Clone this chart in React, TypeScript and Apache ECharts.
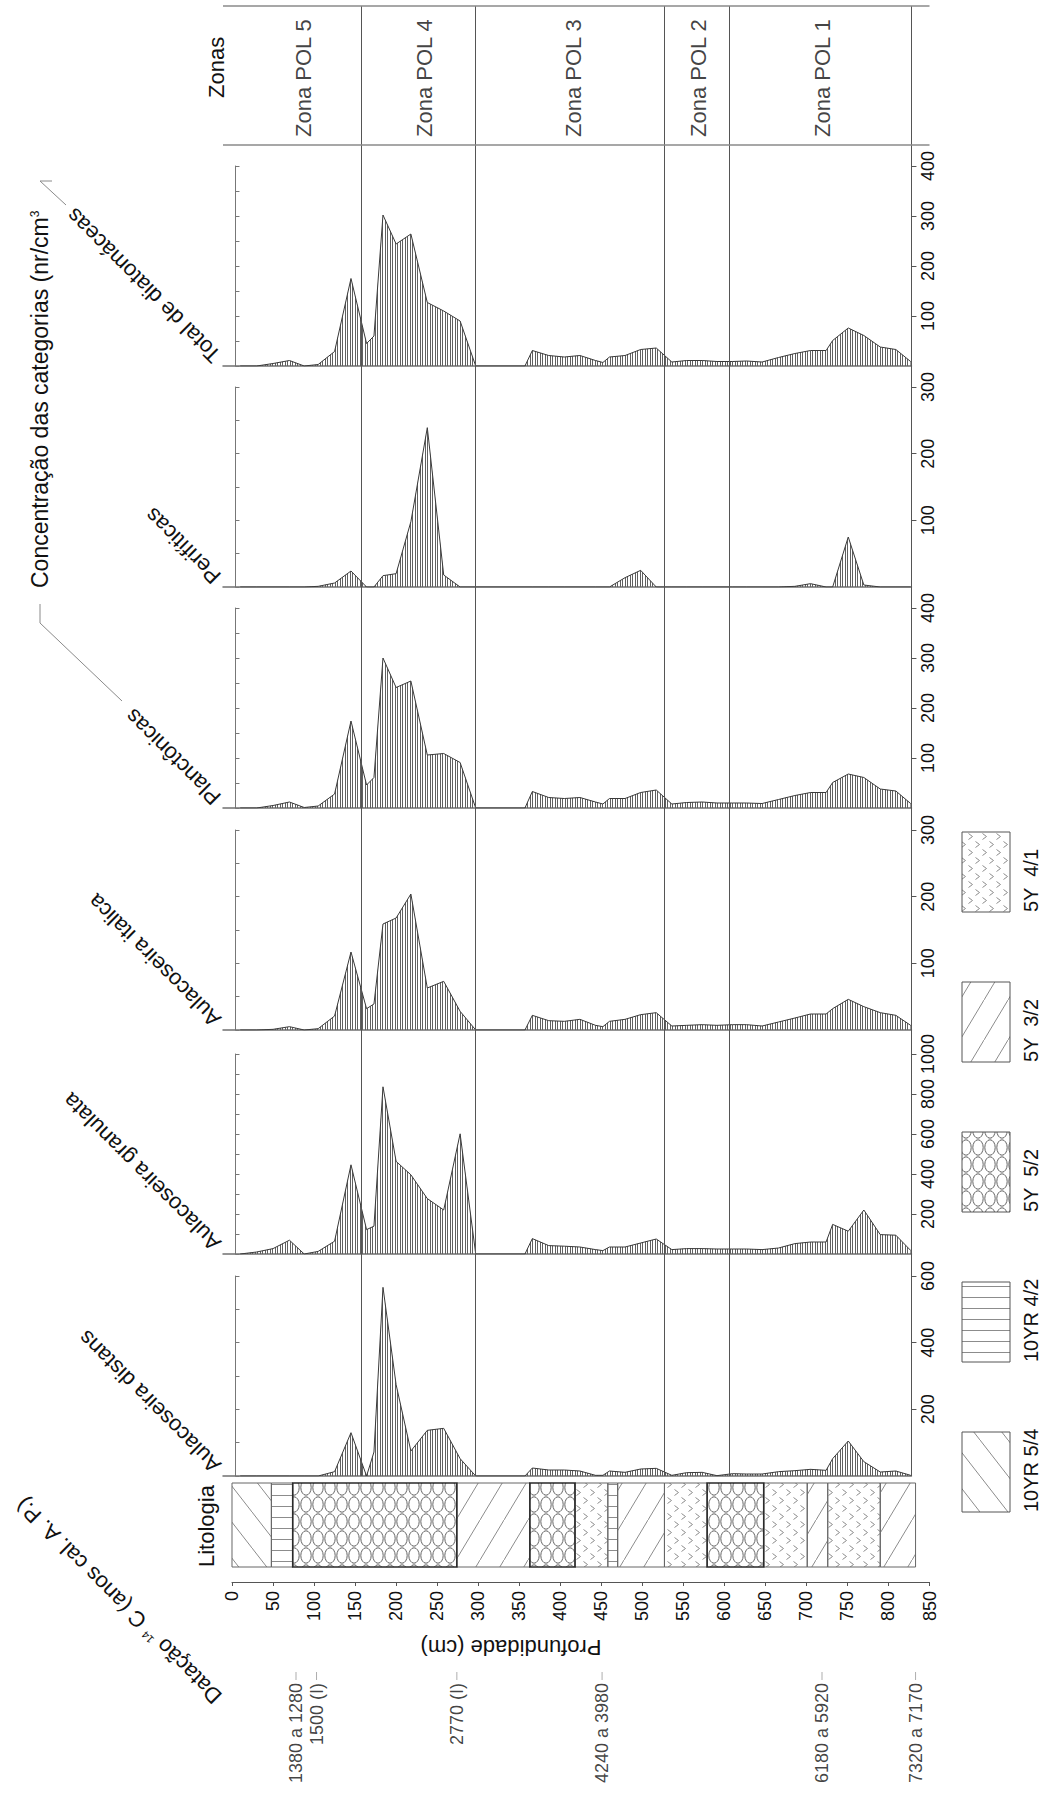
import { useEffect, useRef } from 'react';
import * as echarts from 'echarts';

// ---- sample depths (cm) shared by every diatom curve ----
const depthCm = [10, 30, 50, 70, 88, 105, 125, 145, 164, 173, 184, 200, 218, 238, 258, 278, 297, 357, 366, 386, 405, 424, 443, 452, 460, 479, 498, 517, 536, 554, 573, 591, 610, 627, 646, 666, 686, 705, 724, 732, 751, 770, 790, 809, 827];

// ---- concentrations (nr/cm3) ----
const totalDiatomaceas = [0, 0, 5, 11, 0, 3, 29, 175, 45, 60, 302, 244, 264, 127, 110, 90, 0, 0, 31, 21, 18, 21, 11, 7, 18, 21, 33, 36, 8, 11, 11, 9, 9, 10, 8, 17, 25, 31, 31, 51, 76, 61, 38, 33, 9];
const perifiticas = [0, 0, 0, 0, 0, 1, 6, 24, 0, 0, 17, 20, 98, 239, 18, 0, 0, 0, 0, 0, 0, 0, 0, 0, 0, 14, 25, 0, 0, 0, 0, 0, 0, 0, 0, 0, 1, 5, 0, 0, 75, 3, 0, 0, 0];
const planctonicas = [0, 0, 5, 12, 1, 4, 28, 174, 46, 61, 300, 241, 254, 106, 109, 91, 0, 0, 33, 21, 19, 21, 12, 8, 19, 19, 31, 36, 8, 11, 12, 10, 10, 10, 9, 17, 25, 31, 31, 51, 68, 61, 38, 34, 9];
const aulacoseiraItalica = [0, 0, 1, 5, 0, 2, 21, 117, 32, 39, 159, 168, 204, 63, 73, 28, 0, 0, 22, 14, 13, 16, 7, 5, 13, 16, 23, 26, 6, 7, 8, 7, 8, 8, 6, 12, 18, 24, 24, 32, 46, 35, 26, 22, 7];
const aulacoseiraGranulata = [0, 10, 27, 69, 0, 13, 64, 446, 122, 139, 836, 463, 396, 277, 220, 601, 0, 0, 77, 42, 39, 35, 22, 17, 35, 35, 55, 75, 22, 27, 27, 25, 25, 25, 22, 30, 52, 60, 60, 148, 114, 220, 97, 94, 18];
const aulacoseiraDistans = [0, 0, 0, 0, 0, 0, 13, 130, 0, 72, 566, 274, 75, 137, 143, 52, 0, 0, 24, 18, 18, 15, 2, 2, 15, 11, 21, 23, 2, 10, 11, 1, 7, 6, 6, 13, 16, 20, 17, 52, 105, 43, 12, 15, 2];

const panelNames = ['Total de diatomáceas', 'Perifíticas', 'Planctônicas', 'Aulacoseira italica', 'Aulacoseira granulata', 'Aulacoseira distans'];
const panelValues = [totalDiatomaceas, perifiticas, planctonicas, aulacoseiraItalica, aulacoseiraGranulata, aulacoseiraDistans];
const panelMax = [400, 300, 400, 300, 1000, 600];
const panelMinorStep = [50, 50, 50, 50, 100, 100];
const panelLabelStep = [100, 100, 100, 100, 200, 200];

// ---- pollen zones ----
const zoneNames = ['Zona POL 5', 'Zona POL 4', 'Zona POL 3', 'Zona POL 2', 'Zona POL 1'];
const zoneLabelDepth = [87, 234, 416, 569, 720];
const zoneBoundaries = [158, 297, 527, 606, 828];

// ---- lithology column ----
const lithoTop = [0, 48, 74, 274, 363, 418, 458, 470, 527, 579, 648, 701, 726, 790];
const lithoBase = [48, 74, 274, 363, 418, 458, 470, 527, 579, 648, 701, 726, 790, 833];
const lithoMunsell = ['10YR 5/4', '10YR 4/2', '5Y 5/2', '5Y 3/2', '5Y 5/2', '5Y 4/1', '10YR 4/2', '5Y 3/2', '5Y 4/1', '5Y 5/2', '5Y 4/1', '5Y 3/2', '5Y 4/1', '5Y 3/2'];

// ---- 14C dates ----
const dateDepth = [78, 103, 274, 451, 719, 833];
const dateLabels = ['1380 a 1280', '1500 (I)', '2770 (I)', '4240 a 3980', '6180 a 5920', '7320 a 7170'];

// ---- legend ----
const legendMunsell = ['5Y 4/1', '5Y 3/2', '5Y 5/2', '10YR 4/2', '10YR 5/4'];
const legendLabels = ['5Y  4/1', '5Y  3/2', '5Y  5/2', '10YR 4/2', '10YR 5/4'];

const FONT = '"Liberation Sans", Arial, Helvetica, sans-serif';
const INK = '#111';

type Texture = { url: string; w: number; h: number };

function texture(w: number, h: number, draw: (g: CanvasRenderingContext2D) => void): Texture {
  const c = document.createElement('canvas');
  c.width = w;
  c.height = h;
  const g = c.getContext('2d') as CanvasRenderingContext2D;
  draw(g);
  return { url: c.toDataURL('image/png'), w, h };
}

function buildTextures(): Record<string, Texture> {
  const stroke = (g: CanvasRenderingContext2D, color: string, lw = 1) => {
    g.strokeStyle = color;
    g.lineWidth = lw;
  };
  return {
    hatch: texture(5, 4, (g) => {
      g.fillStyle = '#606060';
      g.fillRect(0, 0, 1, 4);
      g.fillRect(2, 0, 1, 4);
    }),
    '10YR 5/4': texture(28, 36, (g) => {
      stroke(g, '#8c8c8c');
      g.beginPath();
      g.moveTo(0, 0);
      g.lineTo(28, 36);
      g.stroke();
    }),
    '5Y 3/2': texture(24, 40, (g) => {
      stroke(g, '#8c8c8c');
      g.beginPath();
      g.moveTo(0, 40);
      g.lineTo(24, 0);
      g.stroke();
    }),
    '10YR 4/2': texture(6, 11, (g) => {
      g.fillStyle = '#8c8c8c';
      g.fillRect(0, 10, 6, 1);
    }),
    '5Y 5/2': texture(12, 17, (g) => {
      stroke(g, '#555', 0.9);
      g.beginPath();
      g.ellipse(6, 8.5, 5.2, 7.7, 0, 0, Math.PI * 2);
      g.stroke();
    }),
    '5Y 4/1': texture(14, 16, (g) => {
      stroke(g, '#8c8c8c');
      g.beginPath();
      g.moveTo(2.5, 1.5);
      g.lineTo(6.5, 4.5);
      g.lineTo(2.5, 7.5);
      g.moveTo(9.5, 9.5);
      g.lineTo(13.5, 12.5);
      g.lineTo(9.5, 15.5);
      g.stroke();
    }),
  };
}

const fillOf = (t: Texture, x = 0, y = 0) => ({
  image: t.url,
  repeat: 'repeat',
  imageWidth: t.w,
  imageHeight: t.h,
  x,
  y,
});

// layout
const X0 = 232;
const PX_PER_CM = 697.5 / 850;
const PANEL_LEFT = X0 - 11 * PX_PER_CM;
const PANEL_W = (828 + 11) * PX_PER_CM;
const PANEL_H = 200;
const panelBase = [366, 587, 808, 1030, 1254, 1476];

function txt(text: string, x: number, y: number, rotation: number, size: number, align = 'left', extra: any = {}) {
  return {
    type: 'text',
    x,
    y,
    rotation,
    silent: true,
    style: {
      text,
      fill: INK,
      fontSize: size,
      fontFamily: FONT,
      align,
      verticalAlign: 'middle',
      textAlign: align,
      textVerticalAlign: 'middle',
      ...extra,
    },
  };
}

function buildOption() {
  const tex = buildTextures();
  const grid: any[] = [];
  const xAxis: any[] = [];
  const yAxis: any[] = [];
  const series: any[] = [];

  panelBase.forEach((base, i) => {
    grid.push({ left: PANEL_LEFT, top: base - PANEL_H, width: PANEL_W, height: PANEL_H });
    xAxis.push({
      type: 'value', gridIndex: i, min: -11, max: 828,
      axisLine: { show: true, onZero: true, lineStyle: { color: '#707070', width: 1.5 } },
      axisTick: { show: false }, axisLabel: { show: false }, splitLine: { show: false },
    });
    yAxis.push({
      type: 'value', gridIndex: i, min: 0, max: panelMax[i], interval: panelMinorStep[i],
      position: 'left', offset: -12.5,
      axisLine: { show: true, onZero: false, lineStyle: { color: '#777', width: 1 } },
      axisTick: { show: true, inside: true, length: 4, lineStyle: { color: '#777' } },
      axisLabel: { show: false }, splitLine: { show: false },
    });
    yAxis.push({
      type: 'value', gridIndex: i, min: 0, max: panelMax[i], interval: panelLabelStep[i],
      position: 'right',
      axisLine: { show: false, onZero: false },
      axisTick: { show: true, length: 5, lineStyle: { color: '#555' } },
      axisLabel: {
        show: true, rotate: 90, fontSize: 18, margin: 8, color: INK, fontFamily: FONT,
        showMinLabel: false,
        formatter: (v: number) => String(v),
      },
      splitLine: { show: false },
    });
    series.push({
      type: 'line',
      xAxisIndex: i,
      yAxisIndex: 2 * i,
      data: depthCm.map((d, j) => [d, panelValues[i][j]]),
      symbol: 'none',
      silent: true,
      lineStyle: { color: '#3a3a3a', width: 1 },
      areaStyle: { color: fillOf(tex.hatch), opacity: 1 },
      emphasis: { disabled: true },
      z: 3,
    });
  });

  // frame: zone header and zone boundaries crossing all panels
  const FRAME = 6;
  grid.push({ left: PANEL_LEFT, top: 6, width: 861 * PX_PER_CM, height: 1470 });
  xAxis.push({ type: 'value', gridIndex: FRAME, min: -11, max: 850, show: false });
  yAxis.push({ type: 'value', gridIndex: FRAME, min: 0, max: 1470, inverse: true, show: false });
  series.push({
    type: 'scatter',
    xAxisIndex: FRAME,
    yAxisIndex: 2 * 6,
    data: zoneLabelDepth.map((d, i) => ({ value: [d, 131], name: zoneNames[i] })),
    symbolSize: 1,
    itemStyle: { color: 'rgba(0,0,0,0)' },
    silent: true,
    label: {
      show: true, formatter: '{b}', position: 'inside', rotate: 90,
      align: 'left', verticalAlign: 'middle', fontSize: 22, color: INK, fontFamily: FONT,
    },
    markLine: {
      silent: true,
      symbol: ['none', 'none'],
      label: { show: false },
      lineStyle: { color: '#555', width: 1, type: 'solid' },
      data: [
        ...zoneBoundaries.map((b) => ({ xAxis: b })),
        { yAxis: 0, lineStyle: { color: '#8a8a8a', width: 1.5, type: 'solid' } },
        { yAxis: 139, lineStyle: { color: '#8a8a8a', width: 1.5, type: 'solid' } },
      ],
    },
  });

  // lithology column
  const LITHO = 7;
  grid.push({ left: X0, top: 1483, width: 697.5, height: 84 });
  xAxis.push({ type: 'value', gridIndex: LITHO, min: 0, max: 850, show: false });
  yAxis.push({ type: 'value', gridIndex: LITHO, min: 0, max: 1, show: false });
  series.push({
    type: 'custom',
    xAxisIndex: LITHO,
    yAxisIndex: 2 * 6 + 1,
    data: lithoTop.map((t, i) => [t, lithoBase[i], i]),
    encode: { x: [0, 1] },
    silent: true,
    renderItem: (params: any, api: any) => {
      const idx = api.value(2);
      const code = lithoMunsell[idx];
      const p0 = api.coord([api.value(0), 1]);
      const p1 = api.coord([api.value(1), 0]);
      const bold = code === '5Y 5/2';
      return {
        type: 'rect',
        z2: bold ? 2 : 1,
        shape: { x: p0[0], y: p0[1], width: p1[0] - p0[0], height: p1[1] - p0[1] },
        style: {
          fill: fillOf(tex[code], p0[0], p0[1]),
          stroke: bold ? '#2a2a2a' : '#666',
          lineWidth: bold ? 1.6 : 1,
        },
      };
    },
  });

  // depth axis
  const DEPTH = 8;
  grid.push({ left: X0, top: 1482, width: 697.5, height: 100 });
  xAxis.push({
    type: 'value', gridIndex: DEPTH, min: 0, max: 850, interval: 50, position: 'bottom',
    axisLine: { show: true, onZero: false, lineStyle: { color: '#555', width: 1 } },
    axisTick: { show: true, length: 4, lineStyle: { color: '#555' } },
    axisLabel: { rotate: 90, fontSize: 18, margin: 9, color: INK, fontFamily: FONT },
    splitLine: { show: false },
  });
  yAxis.push({ type: 'value', gridIndex: DEPTH, min: 0, max: 1, show: false });

  // 14C dates
  const DATES = 9;
  grid.push({ left: X0, top: 1672, width: 697.5, height: 8 });
  xAxis.push({ type: 'value', gridIndex: DATES, min: 0, max: 850, show: false });
  yAxis.push({ type: 'value', gridIndex: DATES, min: 0, max: 1, show: false });
  series.push({
    type: 'scatter',
    xAxisIndex: DATES,
    yAxisIndex: 2 * 6 + 3,
    data: dateDepth.map((d, i) => ({ value: [d, 0.5], name: dateLabels[i] })),
    symbol: 'rect',
    symbolSize: [1, 8],
    itemStyle: { color: '#9a9a9a' },
    silent: true,
    label: {
      show: true, formatter: '{b}', position: 'bottom', distance: 3, rotate: 90,
      align: 'right', verticalAlign: 'middle', fontSize: 18, color: INK, fontFamily: FONT,
    },
  });

  const graphic: any[] = [];
  graphic.push(txt('Zonas', 216, 98, Math.PI / 2, 22));
  graphic.push(txt('Litologia', 206, 1567, Math.PI / 2, 22));
  graphic.push(
    txt('Concentração das categorias (nr/cm{sup|3}', 40, 588, Math.PI / 2, 23, 'left', {
      rich: { sup: { fontSize: 12, fontFamily: FONT, fill: INK, verticalAlign: 'top' } },
    })
  );
  panelNames.forEach((name, i) => {
    graphic.push(txt(name, 217, panelBase[i] - 7, (3 * Math.PI) / 4, 22));
  });
  graphic.push(txt('Profundidade (cm)', 511, 1647, Math.PI, 22, 'center'));
  graphic.push(
    txt('Datação {sup|14} C (anos cal. A. P.)', 218, 1700, (3 * Math.PI) / 4, 22, 'left', {
      rich: { sup: { fontSize: 11, fontFamily: FONT, fill: INK, verticalAlign: 'top' } },
    })
  );
  // bracket joining the three concentration curves
  graphic.push({
    type: 'polyline', silent: true,
    shape: { points: [[52, 181], [40, 181], [66, 205]] },
    style: { stroke: '#8a8a8a', lineWidth: 1, fill: 'none' },
  });
  graphic.push({
    type: 'polyline', silent: true,
    shape: { points: [[40, 604], [40, 623], [122, 701]] },
    style: { stroke: '#8a8a8a', lineWidth: 1, fill: 'none' },
  });
  // lithology legend
  legendMunsell.forEach((code, i) => {
    const top = 832 + i * 150;
    graphic.push({
      type: 'rect', silent: true,
      shape: { x: 962, y: top, width: 48, height: 80 },
      style: { fill: fillOf(tex[code], 962, top), stroke: '#555', lineWidth: 1 },
    });
    graphic.push(txt(legendLabels[i], 1031, top + 80, Math.PI / 2, 20));
  });

  return {
    animation: false,
    backgroundColor: '#fff',
    textStyle: { fontFamily: FONT },
    grid,
    xAxis,
    yAxis,
    series,
    graphic,
  };
}

export default function App() {
  const ref = useRef<HTMLDivElement>(null);
  useEffect(() => {
    const chart = echarts.init(ref.current as HTMLDivElement, null, { renderer: 'svg' });
    chart.setOption(buildOption() as any);
    return () => chart.dispose();
  }, []);
  return (
    <div
      ref={ref}
      style={{ position: 'absolute', left: 0, top: 0, width: 1045, height: 1798, background: '#fff' }}
    />
  );
}
